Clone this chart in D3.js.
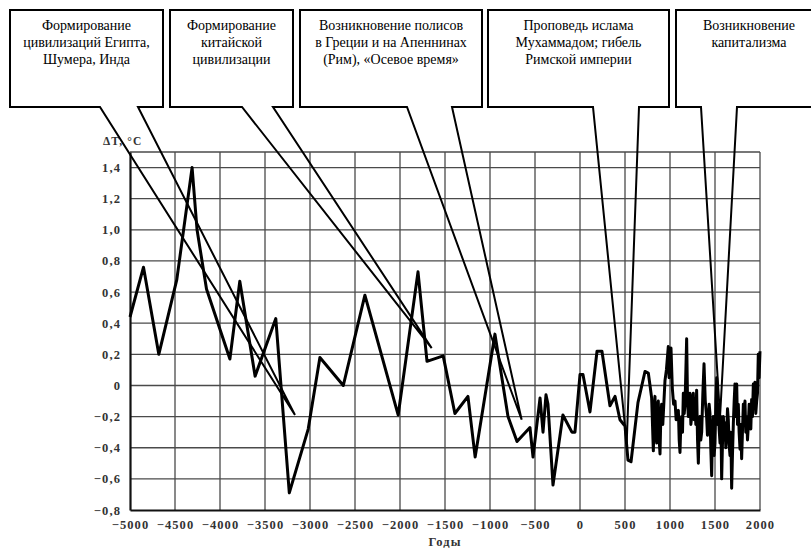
<!DOCTYPE html>
<html>
<head>
<meta charset="utf-8">
<script src="https://cdn.jsdelivr.net/npm/d3@7"></script>
<style>
    body { margin: 0; background: #fff; }
    svg { display: block; }
    .tick-label { font-family: "Liberation Serif", serif; font-weight: bold; font-size: 12.5px; fill: #333; letter-spacing: 1.1px; }
    .note { font-family: "Liberation Serif", serif; font-size: 14px; fill: #000; }
</style>
</head>
<body>
<svg id="chart"></svg>
<script>
// годы и отклонение температуры
const years = [-5000, -4850, -4680, -4480, -4310, -4255, -4150, -3890, -3780, -3610,
    -3380, -3230, -3020, -2890, -2630, -2390, -2020, -1800, -1700, -1520,
    -1390, -1245, -1165, -945, -800, -700, -556, -522, -444, -411,
    -378, -356, -300, -190, -90, -56, 0, 33, 111, 189,
    244, 333, 389, 444, 500, 533, 567, 644, 722, 759,
    778, 796, 815, 824, 833, 842, 852, 861, 870, 880,
    889, 898, 907, 920, 944, 960, 981, 990, 1000, 1011,
    1026, 1040, 1056, 1068, 1081, 1093, 1102, 1111, 1120, 1130,
    1139, 1148, 1158, 1167, 1185, 1195, 1204, 1213, 1222, 1232,
    1241, 1250, 1259, 1268, 1278, 1287, 1296, 1306, 1315, 1324,
    1333, 1342, 1352, 1365, 1378, 1392, 1407, 1416, 1426, 1435,
    1444, 1453, 1463, 1472, 1481, 1490, 1500, 1510, 1519, 1528,
    1537, 1546, 1556, 1565, 1574, 1584, 1593, 1602, 1611, 1620,
    1630, 1639, 1648, 1657, 1667, 1676, 1685, 1694, 1704, 1713,
    1722, 1731, 1741, 1750, 1759, 1768, 1778, 1787, 1796, 1805,
    1815, 1824, 1833, 1842, 1852, 1861, 1870, 1880, 1889, 1898,
    1907, 1916, 1926, 1935, 1944, 1953, 1963, 1972, 1981, 1990,
    2000];
const dT = [0.44, 0.76, 0.20, 0.68, 1.40, 1.00, 0.62, 0.17, 0.67, 0.06,
    0.43, -0.69, -0.28, 0.18, 0.00, 0.58, -0.19, 0.73, 0.155, 0.19,
    -0.18, -0.07, -0.46, 0.33, -0.20, -0.36, -0.27, -0.46, -0.08, -0.30,
    -0.06, -0.12, -0.64, -0.19, -0.30, -0.30, 0.07, 0.07, -0.17, 0.22,
    0.22, -0.13, -0.07, -0.22, -0.26, -0.48, -0.49, -0.11, 0.09, 0.08,
    0.00, -0.08, -0.42, -0.15, -0.07, -0.30, -0.37, -0.12, -0.10, -0.35,
    -0.44, -0.20, -0.12, -0.25, 0.03, 0.10, 0.25, 0.05, 0.12, 0.24,
    -0.02, -0.12, -0.10, -0.22, -0.20, -0.16, -0.35, -0.43, -0.25, -0.20,
    -0.30, -0.05, -0.18, -0.12, 0.30, -0.10, -0.20, -0.10, -0.05, -0.25,
    -0.20, -0.08, -0.05, -0.22, -0.10, -0.25, -0.03, -0.35, -0.50, -0.28,
    -0.20, -0.35, -0.30, -0.05, 0.14, -0.10, -0.20, -0.32, -0.26, -0.12,
    -0.18, -0.40, -0.58, -0.30, -0.20, -0.45, -0.37, -0.10, 0.05, -0.25,
    -0.12, -0.28, -0.37, -0.20, -0.60, -0.35, -0.20, -0.35, -0.24, -0.40,
    -0.30, -0.15, -0.22, -0.38, -0.45, -0.30, -0.66, -0.45, -0.24, -0.10,
    0.01, -0.20, 0.01, -0.25, -0.12, -0.30, -0.41, -0.25, -0.47, -0.30,
    -0.12, -0.25, -0.10, -0.30, -0.20, -0.35, -0.26, -0.12, -0.16, -0.28,
    -0.09, -0.20, 0.01, -0.15, 0.02, -0.18, -0.10, -0.05, 0.20, 0.05,
    0.22];

const xTicks = [-5000, -4500, -4000, -3500, -3000, -2500, -2000, -1500, -1000, -500, 0, 500, 1000, 1500, 2000];
const yTicks = [-0.8, -0.6, -0.4, -0.2, 0, 0.2, 0.4, 0.6, 0.8, 1.0, 1.2, 1.4];
const yTop = 1.5;

// подписи событий и точки, на которые указывают выноски
const noteTexts = [
    ["Формирование", "цивилизаций Египта,", "Шумера, Инда"],
    ["Формирование", "китайской", "цивилизации"],
    ["Возникновение полисов", "в Греции и на Апеннинах", "(Рим), «Осевое время»"],
    ["Проповедь ислама", "Мухаммадом; гибель", "Римской империи"],
    ["Возникновение", "капитализма"]
];
const noteYears = [-3167, -1648, -648, 519, 1556];
const noteValues = [-0.19, 0.24, -0.22, -0.37, -0.20];

class TempChart {

    margin = { top: 152, right: 51, bottom: 38, left: 130 };

    constructor(svg) {
        this.svg = svg;
        this.width = 811;
        this.height = 548;
    }

    initialize() {
        this.svg = d3.select(this.svg)
            .attr("width", this.width)
            .attr("height", this.height);

        this.innerW = this.width - this.margin.left - this.margin.right;
        this.innerH = this.height - this.margin.top - this.margin.bottom;

        this.xScale = d3.scaleLinear().domain([-5000, 2000]).range([this.margin.left, this.margin.left + this.innerW]);
        this.yScale = d3.scaleLinear().domain([-0.8, yTop]).range([this.margin.top + this.innerH, this.margin.top]);

        this.grid = this.svg.append("g");
        this.axes = this.svg.append("g");
        this.line = this.svg.append("g");
        this.notes = this.svg.append("g");

        this.update();
    }

    update() {
        const x = this.xScale, y = this.yScale;
        const fmtY = d => d === 0 ? "0" : d3.format(".1f")(d).replace(".", ",").replace("-", "\u2212");
        const fmtX = d => String(d).replace("-", "\u2212");

        // сетка
        this.grid.selectAll("line.v")
            .data(xTicks.slice(1))
            .join("line")
            .attr("class", "v")
            .attr("x1", d => x(d)).attr("x2", d => x(d))
            .attr("y1", y(yTop)).attr("y2", y(-0.8))
            .attr("stroke", "#4a4a4a").attr("stroke-width", 1.3);

        this.grid.selectAll("line.h")
            .data(yTicks.slice(1).concat([yTop]))
            .join("line")
            .attr("class", "h")
            .attr("x1", x(-5000)).attr("x2", x(2000))
            .attr("y1", d => y(d)).attr("y2", d => y(d))
            .attr("stroke", "#4a4a4a").attr("stroke-width", 1.3);

        // оси
        const xAxis = this.axes.append("g")
            .attr("transform", `translate(0, ${y(-0.8)})`)
            .call(d3.axisBottom(x).tickValues(xTicks).tickSize(0).tickPadding(10).tickFormat(fmtX));
        const yAxis = this.axes.append("g")
            .attr("transform", `translate(${x(-5000)}, 0)`)
            .call(d3.axisLeft(y).tickValues(yTicks).tickSize(0).tickPadding(9).tickFormat(fmtY));

        [xAxis, yAxis].forEach(a => {
            a.select(".domain").attr("stroke", "#111").attr("stroke-width", 2.2);
            a.selectAll("text").attr("class", "tick-label").attr("font-family", null).attr("font-size", null);
        });

        this.axes.append("text")
            .attr("class", "tick-label")
            .attr("x", 103).attr("y", 145)
            .style("font-size", "11.5px")
            .text("\u0394T, °C");

        this.axes.append("text")
            .attr("class", "tick-label")
            .attr("x", (x(-5000) + x(2000)) / 2).attr("y", 546)
            .attr("text-anchor", "middle")
            .style("font-size", "12.5px")
            .text("Годы");

        // кривая
        const pts = years.map((d, i) => [d, dT[i]]);
        this.line.append("path")
            .datum(pts)
            .attr("fill", "none")
            .attr("stroke", "#000")
            .attr("stroke-width", 3)
            .attr("stroke-linejoin", "round")
            .attr("d", d3.line().x(d => x(d[0])).y(d => y(d[1])));

        // выноски
        const boxes = [
            { l: 10, r: 163, b1: 100, b2: 138 },
            { l: 170, r: 293, b1: 242, b2: 273 },
            { l: 300, r: 482, b1: 407, b2: 452 },
            { l: 488, r: 669, b1: 593, b2: 639 },
            { l: 676, r: 822, b1: 701, b2: 737 }
        ];
        const top = 10, bottom = 107;

        boxes.forEach((b, i) => {
            const tx = x(noteYears[i]), ty = y(noteValues[i]);
            const p = d3.path();
            p.moveTo(b.l, top);
            p.lineTo(b.r, top);
            p.lineTo(b.r, bottom);
            p.lineTo(b.b2, bottom);
            p.lineTo(tx, ty);
            p.lineTo(b.b1, bottom);
            p.lineTo(b.l, bottom);
            p.closePath();

            this.notes.append("path")
                .attr("d", p.toString())
                .attr("fill", "none")
                .attr("stroke", "#000")
                .attr("stroke-width", 2)
                .attr("stroke-linejoin", "miter");

            this.notes.append("text")
                .attr("class", "note")
                .attr("text-anchor", "middle")
                .selectAll("tspan")
                .data(noteTexts[i])
                .join("tspan")
                .attr("x", (b.l + b.r) / 2)
                .attr("y", (d, k) => 29.5 + k * 17)
                .text(d => d);
        });
    }
}

const chart = new TempChart(document.getElementById("chart"));
chart.initialize();
</script>
</body>
</html>
